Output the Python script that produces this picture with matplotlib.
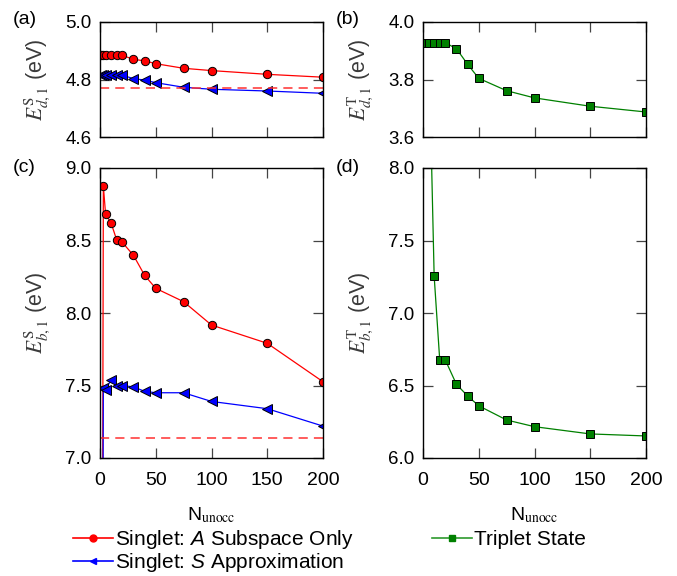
import matplotlib
matplotlib.use('Agg')
import matplotlib.pyplot as plt
from matplotlib.lines import Line2D

plt.rcParams['font.family'] = ['Liberation Sans', 'DejaVu Sans']
plt.rcParams['mathtext.fontset'] = 'stix'

# number of unoccupied states
n_singlet = [1, 3, 5, 10, 15, 20, 30, 40, 50, 75, 100, 150, 200]
n_triplet = [1, 5, 10, 15, 20, 30, 40, 50, 75, 100, 150, 200]

# singlet energies (eV)
singlet_A_d = [4.884, 4.884, 4.884, 4.884, 4.884, 4.884, 4.870, 4.865, 4.855, 4.839, 4.831, 4.818, 4.808]
singlet_S_d = [4.815, 4.815, 4.815, 4.815, 4.815, 4.815, 4.803, 4.798, 4.789, 4.773, 4.766, 4.760, 4.752]
singlet_A_b = [2.0, 8.876, 8.683, 8.619, 8.503, 8.487, 8.398, 8.260, 8.170, 8.078, 7.917, 7.791, 7.526]
singlet_S_b = [2.0, 7.480, 7.470, 7.540, 7.500, 7.500, 7.490, 7.460, 7.450, 7.450, 7.390, 7.340, 7.220]
ref_d = 4.769
ref_b = 7.140

# triplet energies (eV)
triplet_d = [3.928, 3.928, 3.928, 3.928, 3.928, 3.907, 3.853, 3.804, 3.761, 3.736, 3.707, 3.687]
triplet_b = [10.0, 8.940, 7.255, 6.676, 6.676, 6.508, 6.428, 6.360, 6.262, 6.216, 6.166, 6.152]

W, H = 677, 576
fig = plt.figure(figsize=(W / 100, H / 100), dpi=100)

def add_ax(l, r, t, b):
    return fig.add_axes([l / W, 1 - b / H, (r - l) / W, (b - t) / H])

ax_a = add_ax(100, 323, 22, 137)
ax_b = add_ax(423, 646, 22, 137)
ax_c = add_ax(100, 323, 168, 458)
ax_d = add_ax(423, 646, 168, 458)

red, blue, green = '#ff0000', '#0000ff', '#008000'
mk = dict(markeredgecolor='black', markeredgewidth=0.7, lw=0.9, clip_on=True)

ax_a.plot(n_singlet, singlet_A_d, 'o-', color=red, ms=6, **mk)
ax_a.plot(n_singlet, singlet_S_d, '<-', color=blue, ms=6.5, **mk)
ax_a.axhline(ref_d, color='#ff3030', lw=1.1, ls=(0, (6, 4)))

ax_c.plot(n_singlet, singlet_A_b, 'o-', color=red, ms=6, **mk)
ax_c.plot(n_singlet, singlet_S_b, '<-', color=blue, ms=6.5, **mk)
ax_c.axhline(ref_b, color='#ff3030', lw=1.1, ls=(0, (6, 4)))

ax_b.plot(n_triplet, triplet_d, 's-', color=green, ms=5.5, **mk)
ax_d.plot(n_triplet, triplet_b, 's-', color=green, ms=5.5, **mk)

limits = {ax_a: (4.6, 5.0, [4.6, 4.8, 5.0]),
          ax_b: (3.6, 4.0, [3.6, 3.8, 4.0]),
          ax_c: (7.0, 9.0, [7.0, 7.5, 8.0, 8.5, 9.0]),
          ax_d: (6.0, 8.0, [6.0, 6.5, 7.0, 7.5, 8.0])}
labels = {ax_a: r'$E^{\rm S}_{d,1}$ (eV)',
          ax_b: r'$E^{\rm T}_{d,1}$ (eV)',
          ax_c: r'$E^{\rm S}_{b,1}$ (eV)',
          ax_d: r'$E^{\rm T}_{b,1}$ (eV)'}

for ax, (lo, hi, yt) in limits.items():
    ax.set_xlim(0, 200)
    ax.set_ylim(lo, hi)
    ax.set_yticks(yt)
    ax.set_yticklabels(['%.1f' % v for v in yt])
    ax.set_xticks([0, 50, 100, 150, 200])
    ax.tick_params(direction='in', top=True, right=True, length=7, width=0.9,
                   color='#444444', labelsize=13.5, pad=6)
    for s in ax.spines.values():
        s.set_linewidth(1.0)
    ax.set_ylabel(labels[ax], fontsize=15.5, color='#3a3a3a')
    ax.yaxis.set_label_coords(-0.215, 0.5)

for ax in (ax_a, ax_b):
    ax.set_xticklabels([])
for ax in (ax_c, ax_d):
    ax.tick_params(axis='x', labelsize=14, pad=10)
    ax.set_xlabel(r'N$_{\rm unocc}$', fontsize=14, labelpad=12)

for txt, x, y in [('(a)', 13, 19), ('(b)', 336, 19), ('(c)', 13, 167), ('(d)', 336, 167)]:
    fig.text(x / W, 1 - y / H, txt, fontsize=14, ha='left', va='center')

handles = [Line2D([], [], color=red, marker='o', ms=5, lw=1.2),
           Line2D([], [], color=blue, marker='<', ms=5, lw=1.2),
           Line2D([], [], color='#2e9a2e', marker='s', ms=5, markerfacecolor=green,
                  markeredgecolor=green, lw=1.2)]
names = [r'Singlet: $\mathit{A}$ Subspace Only',
         r'Singlet: $\mathit{S}$ Approximation',
         'Triplet State']
plt.rcParams['mathtext.fontset'] = 'custom'
plt.rcParams['mathtext.it'] = 'Liberation Sans:italic'
fig.legend(handles, names, loc='upper left', bbox_to_anchor=(73 / W, 1 - 528 / H),
           ncol=2, frameon=False, fontsize=15, handlelength=1.9, handletextpad=0.1,
           labelspacing=0.0, columnspacing=3.8, borderpad=0, borderaxespad=0)

fig.savefig('out.png', dpi=100)
